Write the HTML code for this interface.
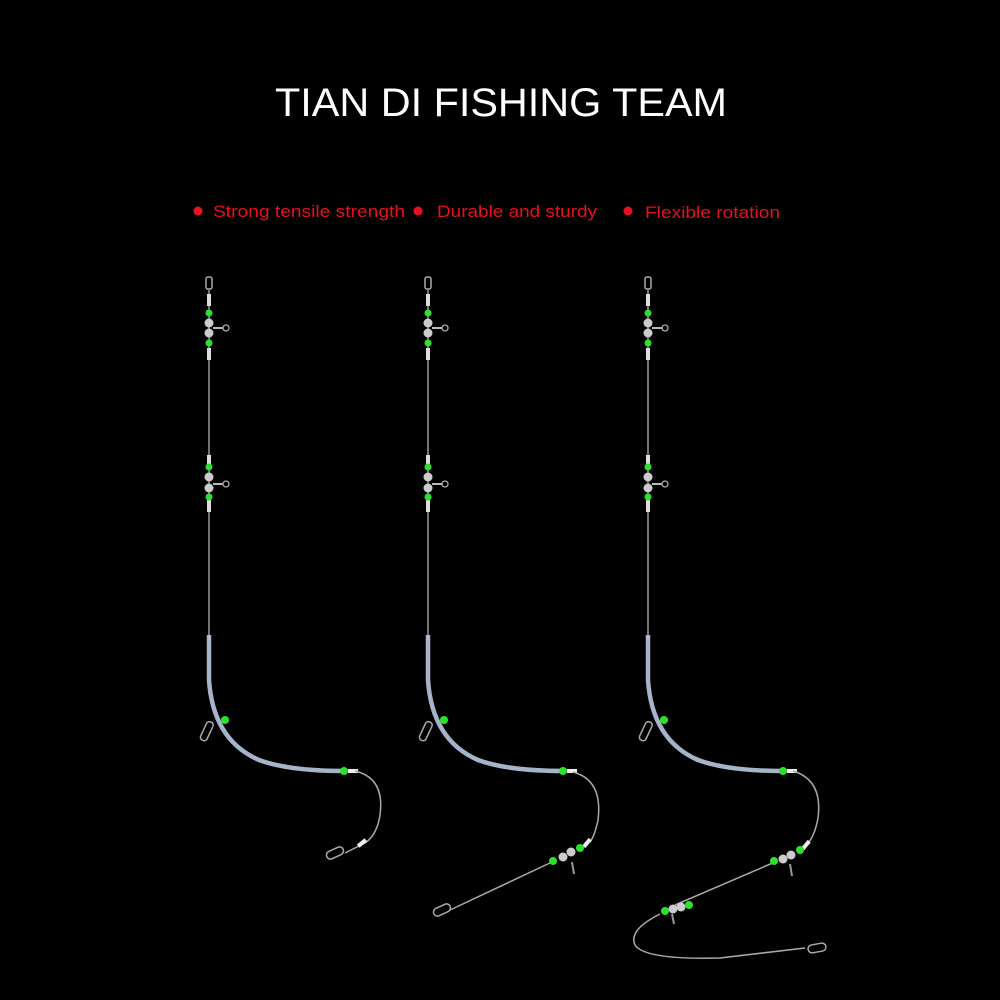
<!DOCTYPE html>
<html><head><style>
html,body{margin:0;padding:0;background:#000;width:1000px;height:1000px;overflow:hidden}
</style></head><body>
<svg width="1000" height="1000" viewBox="0 0 1000 1000" xmlns="http://www.w3.org/2000/svg">
<rect width="1000" height="1000" fill="#000"/>
<text x="275" y="116" textLength="452" lengthAdjust="spacingAndGlyphs" font-family="Liberation Sans, sans-serif" font-size="40" fill="#fff">TIAN DI FISHING TEAM</text>
<g font-family="Liberation Sans, sans-serif" font-size="17" fill="#e8101e">
<circle cx="198" cy="211" r="4.5"/><text x="213" y="217" textLength="192" lengthAdjust="spacingAndGlyphs">Strong tensile strength</text>
<circle cx="418" cy="211" r="4.5"/><text x="437" y="217" textLength="160" lengthAdjust="spacingAndGlyphs">Durable and sturdy</text>
<circle cx="628" cy="211" r="4.5"/><text x="645" y="218" textLength="135" lengthAdjust="spacingAndGlyphs">Flexible rotation</text>
</g>
<defs>
<g id="top">
  <rect x="-3" y="277" width="6" height="12" rx="2" fill="none" stroke="#aaa" stroke-width="1.5"/>
  <line x1="0" y1="290" x2="0" y2="640" stroke="#999" stroke-width="1.5"/>
  <rect x="-2" y="294" width="4" height="12" fill="#ddd"/>
  <rect x="-2" y="348" width="4" height="12" fill="#ddd"/>
  <circle cx="0" cy="313" r="3.5" fill="#2ee02e"/>
  <circle cx="0" cy="323" r="4.5" fill="#ccc"/>
  <circle cx="0" cy="333" r="4.5" fill="#ccc"/>
  <circle cx="0" cy="343" r="3.5" fill="#2ee02e"/>
  <line x1="4" y1="328" x2="14" y2="328" stroke="#bbb" stroke-width="2"/>
  <circle cx="17" cy="328" r="3" fill="none" stroke="#aaa" stroke-width="1.3"/>
  <rect x="-2" y="455" width="4" height="10" fill="#ddd"/>
  <rect x="-2" y="500" width="4" height="12" fill="#ddd"/>
  <circle cx="0" cy="467" r="3.5" fill="#2ee02e"/>
  <circle cx="0" cy="477" r="4.5" fill="#ccc"/>
  <circle cx="0" cy="488" r="4.5" fill="#ccc"/>
  <circle cx="0" cy="497" r="3.5" fill="#2ee02e"/>
  <line x1="4" y1="484" x2="14" y2="484" stroke="#bbb" stroke-width="2"/>
  <circle cx="17" cy="484" r="3" fill="none" stroke="#aaa" stroke-width="1.3"/>
  <path d="M0 635 L0 680 Q4 740 50 760 Q80 771 136 771" fill="none" stroke="#b8c8e0" stroke-width="4.5" opacity="0.9"/>
  <circle cx="16" cy="720" r="4" fill="#2ee02e"/>
  <rect x="-5" y="722" width="7" height="20" rx="3" transform="rotate(25 0 730)" fill="none" stroke="#aaa" stroke-width="1.5"/>
  <circle cx="135" cy="771" r="4" fill="#2ee02e"/>
  <rect x="139" y="769" width="10" height="4" fill="#eee"/>
</g>
</defs>
<use href="#top" x="209"/>
<use href="#top" x="428"/>
<use href="#top" x="648"/>
<g fill="none" stroke="#aaa" stroke-width="1.5">
<path d="M355 771 Q385 778 380 815 Q377 835 365 843"/>
<path d="M365 843 L345 853"/>
<rect x="326" y="849" width="18" height="8" rx="4" transform="rotate(-25 335 853)"/>
<path d="M573 772 Q603 780 598 820 Q595 835 590 842"/>
<path d="M552 862 L450 910"/>
<rect x="433" y="906" width="18" height="8" rx="4" transform="rotate(-25 442 910)"/>
<path d="M793 771 Q823 780 818 818 Q815 835 808 843"/>
<path d="M775 862 L675 905"/>
<path d="M660 914 Q628 930 635 945 Q645 960 720 958 L805 948"/>
<rect x="808" y="944" width="18" height="8" rx="4" transform="rotate(-10 817 948)"/>
</g>
<g>
<rect x="585" y="838" width="4" height="10" fill="#eee" transform="rotate(40 587 843)"/>
<circle cx="580" cy="848" r="4" fill="#2ee02e"/>
<circle cx="571" cy="852" r="4.5" fill="#ccc"/>
<circle cx="563" cy="857" r="4.5" fill="#ccc"/>
<circle cx="553" cy="861" r="4" fill="#2ee02e"/>
<line x1="572" y1="862" x2="574" y2="874" stroke="#999" stroke-width="2"/>
<rect x="804" y="840" width="4" height="10" fill="#eee" transform="rotate(40 806 845)"/>
<circle cx="800" cy="850" r="4" fill="#2ee02e"/>
<circle cx="791" cy="855" r="4.5" fill="#ccc"/>
<circle cx="783" cy="859" r="4.5" fill="#ccc"/>
<circle cx="774" cy="861" r="4" fill="#2ee02e"/>
<line x1="790" y1="864" x2="792" y2="876" stroke="#999" stroke-width="2"/>
<circle cx="665" cy="911" r="4" fill="#2ee02e"/>
<circle cx="673" cy="909" r="4.5" fill="#ccc"/>
<circle cx="681" cy="907" r="4.5" fill="#ccc"/>
<circle cx="689" cy="905" r="4" fill="#2ee02e"/>
<line x1="672" y1="914" x2="674" y2="924" stroke="#999" stroke-width="2"/>
<rect x="360" y="838" width="4" height="10" fill="#eee" transform="rotate(50 362 843)"/>
</g>
</svg>
</body></html>
